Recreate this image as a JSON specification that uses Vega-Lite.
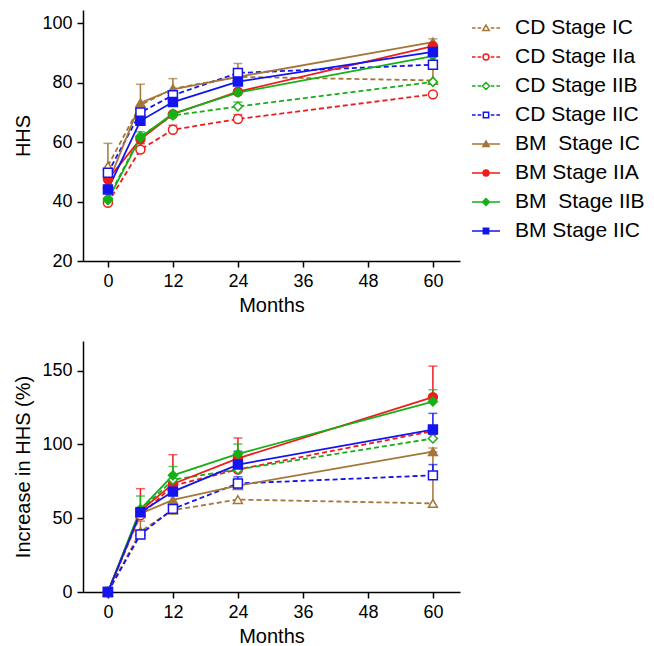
{
  "$schema": "https://vega.github.io/schema/vega-lite/v6.json",
  "padding": {"left": 13, "top": 10, "right": 5, "bottom": 0},
  "config": {
    "view": {"stroke": null},
    "font": "Liberation Sans",
    "axis": {
      "grid": false,
      "domainColor": "#000000",
      "domainWidth": 1.5,
      "tickColor": "#000000",
      "tickWidth": 1.5,
      "tickSize": 6,
      "labelColor": "#000000",
      "labelFontSize": 18,
      "labelPadding": 5,
      "titleColor": "#000000",
      "titleFontSize": 20,
      "titleFontWeight": "normal"
    },
    "axisX": {"titlePadding": 5},
    "axisY": {"titlePadding": 8}
  },
  "data": {
    "values": [
      {"s": "CD Stage IC", "m": 0, "hhs": 52, "hhs_hi": 59.6, "inc": 0, "inc_hi": null},
      {"s": "CD Stage IC", "m": 6, "hhs": 72.5, "hhs_hi": null, "inc": 41, "inc_hi": 48},
      {"s": "CD Stage IC", "m": 12, "hhs": 78, "hhs_hi": null, "inc": 55.5, "inc_hi": null},
      {"s": "CD Stage IC", "m": 24, "hhs": 82, "hhs_hi": null, "inc": 62.6, "inc_hi": null},
      {"s": "CD Stage IC", "m": 60, "hhs": 80.8, "hhs_hi": 85.3, "inc": 60, "inc_hi": 95},
      {"s": "CD Stage IIa", "m": 0, "hhs": 39.6, "hhs_hi": null, "inc": 0, "inc_hi": null},
      {"s": "CD Stage IIa", "m": 6, "hhs": 57.5, "hhs_hi": 59.5, "inc": 52, "inc_hi": null},
      {"s": "CD Stage IIa", "m": 12, "hhs": 64.2, "hhs_hi": 65.7, "inc": 72, "inc_hi": null},
      {"s": "CD Stage IIa", "m": 24, "hhs": 67.8, "hhs_hi": 69.3, "inc": 83, "inc_hi": null},
      {"s": "CD Stage IIa", "m": 60, "hhs": 76.1, "hhs_hi": null, "inc": 109, "inc_hi": null},
      {"s": "CD Stage IIB", "m": 0, "hhs": 41, "hhs_hi": null, "inc": 0, "inc_hi": null},
      {"s": "CD Stage IIB", "m": 6, "hhs": 62, "hhs_hi": null, "inc": 55, "inc_hi": null},
      {"s": "CD Stage IIB", "m": 12, "hhs": 69, "hhs_hi": null, "inc": 76, "inc_hi": null},
      {"s": "CD Stage IIB", "m": 24, "hhs": 72, "hhs_hi": 73.5, "inc": 83, "inc_hi": null},
      {"s": "CD Stage IIB", "m": 60, "hhs": 80.3, "hhs_hi": null, "inc": 104, "inc_hi": 112},
      {"s": "CD Stage IIC", "m": 0, "hhs": 49.7, "hhs_hi": null, "inc": 0, "inc_hi": null},
      {"s": "CD Stage IIC", "m": 6, "hhs": 70, "hhs_hi": null, "inc": 39, "inc_hi": null},
      {"s": "CD Stage IIC", "m": 12, "hhs": 75.8, "hhs_hi": null, "inc": 56.3, "inc_hi": null},
      {"s": "CD Stage IIC", "m": 24, "hhs": 83.3, "hhs_hi": null, "inc": 73.5, "inc_hi": 78},
      {"s": "CD Stage IIC", "m": 60, "hhs": 86.1, "hhs_hi": null, "inc": 79, "inc_hi": 86.3},
      {"s": "BM\u00a0 Stage IC", "m": 0, "hhs": 46, "hhs_hi": null, "inc": 0, "inc_hi": null},
      {"s": "BM\u00a0 Stage IC", "m": 6, "hhs": 73.2, "hhs_hi": 79.5, "inc": 53, "inc_hi": null},
      {"s": "BM\u00a0 Stage IC", "m": 12, "hhs": 77.8, "hhs_hi": 81.4, "inc": 62.4, "inc_hi": null},
      {"s": "BM\u00a0 Stage IC", "m": 24, "hhs": 82, "hhs_hi": 86.5, "inc": 72, "inc_hi": null},
      {"s": "BM\u00a0 Stage IC", "m": 60, "hhs": 93.7, "hhs_hi": 94.8, "inc": 95, "inc_hi": 97.5},
      {"s": "BM Stage IIA", "m": 0, "hhs": 47.5, "hhs_hi": null, "inc": 0, "inc_hi": null},
      {"s": "BM Stage IIA", "m": 6, "hhs": 61, "hhs_hi": null, "inc": 55, "inc_hi": 70},
      {"s": "BM Stage IIA", "m": 12, "hhs": 69.4, "hhs_hi": null, "inc": 73.2, "inc_hi": 93},
      {"s": "BM Stage IIA", "m": 24, "hhs": 77, "hhs_hi": null, "inc": 90.5, "inc_hi": 104.3},
      {"s": "BM Stage IIA", "m": 60, "hhs": 92.3, "hhs_hi": null, "inc": 132, "inc_hi": 153},
      {"s": "BM\u00a0 Stage IIB", "m": 0, "hhs": 40.5, "hhs_hi": null, "inc": 0, "inc_hi": null},
      {"s": "BM\u00a0 Stage IIB", "m": 6, "hhs": 61.6, "hhs_hi": 63.5, "inc": 56, "inc_hi": 65},
      {"s": "BM\u00a0 Stage IIB", "m": 12, "hhs": 69.6, "hhs_hi": null, "inc": 79, "inc_hi": 85},
      {"s": "BM\u00a0 Stage IIB", "m": 24, "hhs": 76.7, "hhs_hi": null, "inc": 93.5, "inc_hi": 100.2},
      {"s": "BM\u00a0 Stage IIB", "m": 60, "hhs": 89, "hhs_hi": null, "inc": 129, "inc_hi": 137},
      {"s": "BM Stage IIC", "m": 0, "hhs": 44.1, "hhs_hi": null, "inc": 0, "inc_hi": null},
      {"s": "BM Stage IIC", "m": 6, "hhs": 67.2, "hhs_hi": null, "inc": 54, "inc_hi": null},
      {"s": "BM Stage IIC", "m": 12, "hhs": 73.5, "hhs_hi": null, "inc": 68, "inc_hi": null},
      {"s": "BM Stage IIC", "m": 24, "hhs": 80.4, "hhs_hi": null, "inc": 86.3, "inc_hi": 95.3},
      {"s": "BM Stage IIC", "m": 60, "hhs": 90.4, "hhs_hi": null, "inc": 110, "inc_hi": 121}
    ]
  },
  "spacing": 26,
  "vconcat": [
    {
      "width": 377,
      "height": 251,
      "encoding": {
        "x": {"field": "m", "type": "quantitative", "title": "Months", "scale": {"domain": [-4.6, 65], "nice": false, "zero": false}, "axis": {"values": [0, 12, 24, 36, 48, 60]}},
        "y": {"field": "hhs", "type": "quantitative", "title": "HHS", "scale": {"domain": [20, 104.5], "nice": false, "zero": false}, "axis": {"values": [20, 40, 60, 80, 100]}},
        "color": {
          "field": "s", "type": "nominal",
          "scale": {
            "domain": ["CD Stage IC", "CD Stage IIa", "CD Stage IIB", "CD Stage IIC", "BM\u00a0 Stage IC", "BM Stage IIA", "BM\u00a0 Stage IIB", "BM Stage IIC"],
            "range": ["#A5763A", "#EE1C1C", "#16B016", "#1414EE", "#A5763A", "#EE1C1C", "#16B016", "#1414EE"]
          },
          "legend": {
            "title": null,
            "orient": "right",
            "offset": 8,
            "padding": 3,
            "labelFontSize": 21,
            "labelColor": "#000000",
            "labelOffset": 14,
            "labelLimit": 300,
            "symbolSize": 784,
            "symbolStrokeWidth": 1.5,
            "symbolOpacity": 1,
            "rowPadding": 4
          }
        }
      },
      "layer": [
        {
          "transform": [{"filter": "isValid(datum.hhs_hi)"}],
          "mark": {"type": "rule", "strokeWidth": 1.5},
          "encoding": {"y2": {"field": "hhs_hi"}}
        },
        {
          "transform": [{"filter": "isValid(datum.hhs_hi)"}],
          "mark": {"type": "tick", "orient": "horizontal", "size": 9, "thickness": 1.5},
          "encoding": {"y": {"field": "hhs_hi", "type": "quantitative", "title": "HHS"}}
        },
        {
          "transform": [{"filter": "indexof(datum.s,'CD')==0"}],
          "mark": {"type": "line", "strokeWidth": 1.8, "strokeDash": [5, 3]},
          "encoding": {}
        },
        {
          "transform": [{"filter": "indexof(datum.s,'BM')==0"}],
          "mark": {"type": "line", "strokeWidth": 1.8},
          "encoding": {}
        },
        {
          "transform": [{"filter": "indexof(datum.s,'Stage IC')>0"}],
          "mark": {"type": "point", "shape": "triangle-up", "size": 80, "strokeWidth": 1.5, "opacity": 1, "filled": false},
          "encoding": {
            "fill": {
              "field": "s", "type": "nominal",
              "scale": {
                "domain": ["CD Stage IC", "CD Stage IIa", "CD Stage IIB", "CD Stage IIC", "BM\u00a0 Stage IC", "BM Stage IIA", "BM\u00a0 Stage IIB", "BM Stage IIC"],
                "range": ["#ffffff", "#ffffff", "#ffffff", "#ffffff", "#A5763A", "#EE1C1C", "#16B016", "#1414EE"]
              }
            }
          }
        },
        {
          "transform": [{"filter": "indexof(upper(datum.s),'IIA')>0"}],
          "mark": {"type": "point", "shape": "circle", "size": 80, "strokeWidth": 1.5, "opacity": 1, "filled": false},
          "encoding": {"fill": {"field": "s", "type": "nominal"}}
        },
        {
          "transform": [{"filter": "indexof(datum.s,'IIB')>0"}],
          "mark": {"type": "point", "shape": "diamond", "size": 80, "strokeWidth": 1.5, "opacity": 1, "filled": false},
          "encoding": {"fill": {"field": "s", "type": "nominal"}}
        },
        {
          "transform": [{"filter": "indexof(datum.s,'IIC')>0"}],
          "mark": {"type": "point", "shape": "square", "size": 80, "strokeWidth": 1.5, "opacity": 1, "filled": false},
          "encoding": {"fill": {"field": "s", "type": "nominal"}}
        },
        {
          "transform": [{"filter": "false"}],
          "mark": {"type": "point", "strokeWidth": 1.5, "filled": false},
          "encoding": {
            "fill": {"field": "s", "type": "nominal"},
            "shape": {
              "field": "s", "type": "nominal",
              "scale": {
                "domain": ["CD Stage IC", "CD Stage IIa", "CD Stage IIB", "CD Stage IIC", "BM\u00a0 Stage IC", "BM Stage IIA", "BM\u00a0 Stage IIB", "BM Stage IIC"],
                "range": [
                  "M-1,0H-0.74M-0.6,0H-0.34M0.34,0H0.6M0.74,0H1M-0.23,0.18L0,-0.22L0.23,0.18ZM-0.23,0.18L0.23,0.18L0,-0.22Z",
                  "M-1,0H-0.74M-0.6,0H-0.34M0.34,0H0.6M0.74,0H1M0.21,0A0.21,0.21 0 1,1 -0.21,0A0.21,0.21 0 1,1 0.21,0ZM0.21,0A0.21,0.21 0 1,0 -0.21,0A0.21,0.21 0 1,0 0.21,0Z",
                  "M-1,0H-0.74M-0.6,0H-0.34M0.34,0H0.6M0.74,0H1M0,-0.25L0.25,0L0,0.25L-0.25,0ZM0,-0.25L-0.25,0L0,0.25L0.25,0Z",
                  "M-1,0H-0.74M-0.6,0H-0.34M0.34,0H0.6M0.74,0H1M-0.19,-0.19H0.19V0.19H-0.19ZM-0.19,-0.19V0.19H0.19V-0.19Z",
                  "M-1,0H1M-0.23,0.18L0,-0.22L0.23,0.18Z",
                  "M-1,0H1M0.21,0A0.21,0.21 0 1,1 -0.21,0A0.21,0.21 0 1,1 0.21,0Z",
                  "M-1,0H1M0,-0.25L0.25,0L0,0.25L-0.25,0Z",
                  "M-1,0H1M-0.19,-0.19H0.19V0.19H-0.19Z"
                ]
              }
            }
          }
        }
      ]
    },
    {
      "width": 377,
      "height": 251,
      "encoding": {
        "x": {"field": "m", "type": "quantitative", "title": "Months", "scale": {"domain": [-4.6, 65], "nice": false, "zero": false}, "axis": {"values": [0, 12, 24, 36, 48, 60]}},
        "y": {"field": "inc", "type": "quantitative", "title": "Increase in HHS (%)", "scale": {"domain": [0, 170], "nice": false}, "axis": {"values": [0, 50, 100, 150]}},
        "color": {"field": "s", "type": "nominal"}
      },
      "layer": [
        {
          "transform": [{"filter": "isValid(datum.inc_hi)"}],
          "mark": {"type": "rule", "strokeWidth": 1.5},
          "encoding": {"y2": {"field": "inc_hi"}}
        },
        {
          "transform": [{"filter": "isValid(datum.inc_hi)"}],
          "mark": {"type": "tick", "orient": "horizontal", "size": 9, "thickness": 1.5},
          "encoding": {"y": {"field": "inc_hi", "type": "quantitative", "title": "Increase in HHS (%)"}}
        },
        {
          "transform": [{"filter": "indexof(datum.s,'CD')==0"}],
          "mark": {"type": "line", "strokeWidth": 1.8, "strokeDash": [5, 3]},
          "encoding": {}
        },
        {
          "transform": [{"filter": "indexof(datum.s,'BM')==0"}],
          "mark": {"type": "line", "strokeWidth": 1.8},
          "encoding": {}
        },
        {
          "transform": [{"filter": "indexof(datum.s,'Stage IC')>0"}],
          "mark": {"type": "point", "shape": "triangle-up", "size": 80, "strokeWidth": 1.5, "opacity": 1, "filled": false},
          "encoding": {"fill": {"field": "s", "type": "nominal"}}
        },
        {
          "transform": [{"filter": "indexof(upper(datum.s),'IIA')>0"}],
          "mark": {"type": "point", "shape": "circle", "size": 80, "strokeWidth": 1.5, "opacity": 1, "filled": false},
          "encoding": {"fill": {"field": "s", "type": "nominal"}}
        },
        {
          "transform": [{"filter": "indexof(datum.s,'IIB')>0"}],
          "mark": {"type": "point", "shape": "diamond", "size": 80, "strokeWidth": 1.5, "opacity": 1, "filled": false},
          "encoding": {"fill": {"field": "s", "type": "nominal"}}
        },
        {
          "transform": [{"filter": "indexof(datum.s,'IIC')>0"}],
          "mark": {"type": "point", "shape": "square", "size": 80, "strokeWidth": 1.5, "opacity": 1, "filled": false},
          "encoding": {"fill": {"field": "s", "type": "nominal"}}
        }
      ]
    }
  ]
}
